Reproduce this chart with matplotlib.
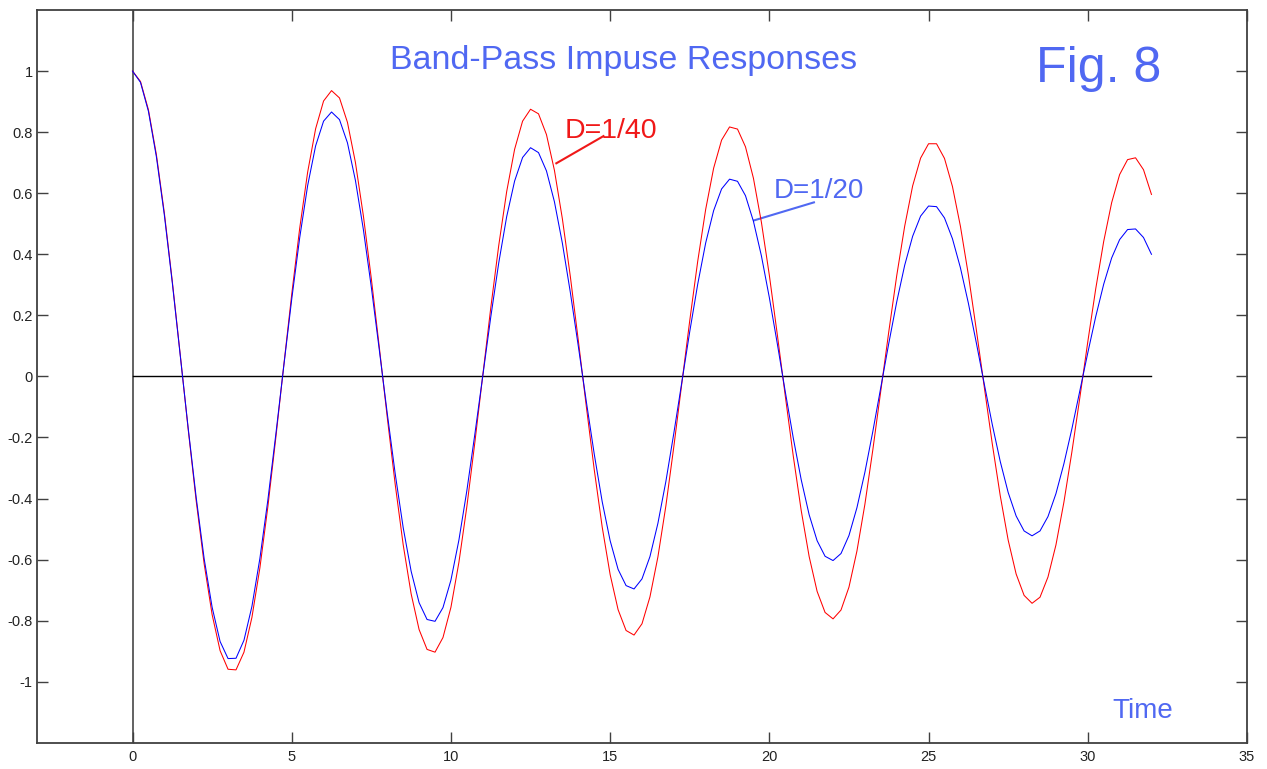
import numpy as np
import matplotlib
matplotlib.use('Agg')
import matplotlib.pyplot as plt
from matplotlib.ticker import FuncFormatter

plt.rcParams['font.family'] = ['Liberation Sans', 'DejaVu Sans']
plt.rcParams['axes.unicode_minus'] = False

# sample times (step 0.25) and the two responses
t = np.arange(0, 32.01, 0.25)

d40 = [1.000, 0.966, 0.873, 0.726, 0.535, 0.311, 0.070, -0.175, -0.408, -0.614,
       -0.780, -0.898, -0.959, -0.961, -0.903, -0.789, -0.627, -0.427, -0.201, 0.036,
       0.269, 0.485, 0.669, 0.811, 0.902, 0.936, 0.912, 0.832, 0.701, 0.526,
       0.320, 0.096, -0.134, -0.354, -0.551, -0.712, -0.829, -0.894, -0.903, -0.855,
       -0.756, -0.609, -0.426, -0.217, 0.004, 0.224, 0.428, 0.605, 0.744, 0.836,
       0.875, 0.860, 0.792, 0.675, 0.516, 0.327, 0.118, -0.097, -0.305, -0.493,
       -0.649, -0.764, -0.832, -0.847, -0.810, -0.722, -0.591, -0.424, -0.230, -0.024,
       0.183, 0.377, 0.547, 0.682, 0.774, 0.817, 0.810, 0.752, 0.649, 0.505,
       0.331, 0.137, -0.064, -0.260, -0.439, -0.590, -0.704, -0.773, -0.794, -0.765,
       -0.690, -0.572, -0.419, -0.240, -0.048, 0.146, 0.330, 0.492, 0.624, 0.715,
       0.762, 0.762, 0.714, 0.622, 0.492, 0.333, 0.153, -0.035, -0.220, -0.390,
       -0.536, -0.647, -0.717, -0.743, -0.723, -0.657, -0.552, -0.412, -0.248, -0.070,
       0.113, 0.287, 0.442, 0.569, 0.661, 0.710, 0.716, 0.677, 0.596]

d20 = [1.000, 0.963, 0.868, 0.719, 0.528, 0.306, 0.068, -0.171, -0.397, -0.597,
       -0.756, -0.868, -0.924, -0.923, -0.864, -0.753, -0.596, -0.405, -0.190, 0.034,
       0.253, 0.454, 0.625, 0.755, 0.836, 0.866, 0.841, 0.765, 0.642, 0.481,
       0.292, 0.087, -0.121, -0.319, -0.495, -0.638, -0.741, -0.796, -0.802, -0.757,
       -0.667, -0.536, -0.374, -0.190, 0.003, 0.194, 0.371, 0.523, 0.640, 0.717,
       0.749, 0.733, 0.673, 0.572, 0.436, 0.275, 0.099, -0.081, -0.254, -0.410,
       -0.538, -0.632, -0.685, -0.696, -0.663, -0.590, -0.481, -0.344, -0.186, -0.019,
       0.147, 0.302, 0.437, 0.543, 0.614, 0.646, 0.639, 0.592, 0.508, 0.395,
       0.258, 0.107, -0.050, -0.201, -0.338, -0.453, -0.538, -0.589, -0.603, -0.580,
       -0.521, -0.430, -0.314, -0.180, -0.036, 0.108, 0.244, 0.364, 0.459, 0.525,
       0.558, 0.556, 0.519, 0.451, 0.356, 0.240, 0.110, -0.025, -0.157, -0.278,
       -0.380, -0.457, -0.506, -0.522, -0.506, -0.459, -0.384, -0.286, -0.172, -0.048,
       0.077, 0.196, 0.302, 0.388, 0.448, 0.481, 0.483, 0.455, 0.400]

x_ticks = [0, 5, 10, 15, 20, 25, 30, 35]
y_ticks = [-1, -0.8, -0.6, -0.4, -0.2, 0, 0.2, 0.4, 0.6, 0.8, 1]

txt_blue = '#5068f2'
txt_red = '#f01818'

fig = plt.figure(figsize=(12.67, 7.69), dpi=100)
ax = fig.add_axes([0.0292, 0.034, 0.955, 0.953])

# axis lines through the origin
ax.axvline(0, color='#555555', lw=1.3, zorder=1)
ax.plot([0, 32], [0, 0], color='black', lw=1.0, zorder=1)

ax.plot(t, d40, color='red', lw=0.75, zorder=3)
ax.plot(t, d20, color='blue', lw=0.75, zorder=4)

ax.set_xlim(-3, 35)
ax.set_ylim(-1.2, 1.2)
ax.set_xticks(x_ticks)
ax.set_yticks(y_ticks)
ax.yaxis.set_major_formatter(FuncFormatter(lambda v, p: '%g' % round(v, 1)))
ax.tick_params(direction='in', length=8, width=1.0, color='#404040',
               labelsize=10.5, labelcolor='#222222', top=True, right=True)
ax.tick_params(axis='y', pad=3)
ax.tick_params(axis='x', pad=5)
for s in ax.spines.values():
    s.set_color('#404040')
    s.set_linewidth(1.3)

# annotations
ax.text(15.42, 1.033, 'Band-Pass Impuse Responses', color=txt_blue,
        fontsize=24.5, ha='center', va='center')
ax.text(30.35, 1.007, 'Fig. 8', color=txt_blue, fontsize=36,
        ha='center', va='center')
ax.text(31.73, -1.095, 'Time', color=txt_blue, fontsize=20,
        ha='center', va='center')

ax.text(15.01, 0.803, 'D=1/40', color=txt_red, fontsize=20.5,
        ha='center', va='center')
ax.plot([13.31, 14.79], [0.698, 0.787], color=txt_red, lw=1.5)
ax.text(21.56, 0.607, 'D=1/20', color=txt_blue, fontsize=20,
        ha='center', va='center')
ax.plot([19.52, 21.40], [0.511, 0.570], color=txt_blue, lw=1.5)

plt.savefig('out.png', dpi=100)
plt.close()
